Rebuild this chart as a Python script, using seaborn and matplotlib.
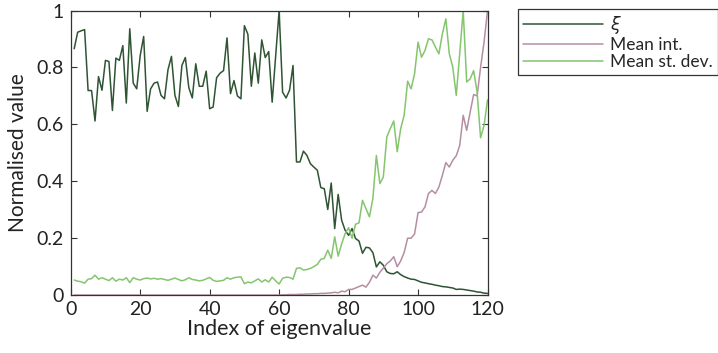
import numpy as np
import pandas as pd
import matplotlib
matplotlib.use("Agg")
import matplotlib.pyplot as plt
import seaborn as sns

index = list(range(1, 121))

xi = [0.866, 0.924, 0.929, 0.933, 0.719, 0.719, 0.612, 0.768, 0.720, 0.825,
      0.821, 0.649, 0.833, 0.825, 0.877, 0.675, 0.936, 0.745, 0.725, 0.842,
      0.909, 0.646, 0.725, 0.745, 0.749, 0.702, 0.690, 0.792, 0.839, 0.702,
      0.663, 0.807, 0.835, 0.729, 0.693, 0.813, 0.734, 0.734, 0.787, 0.655,
      0.661, 0.764, 0.780, 0.789, 0.904, 0.708, 0.754, 0.700, 0.690, 0.947,
      0.917, 0.734, 0.851, 0.745, 0.897, 0.835, 0.856, 0.678, 0.840, 1.000,
      0.713, 0.693, 0.720, 0.807, 0.468, 0.468, 0.506, 0.491, 0.462, 0.450,
      0.439, 0.378, 0.374, 0.301, 0.394, 0.234, 0.354, 0.263, 0.228, 0.210,
      0.234, 0.199, 0.190, 0.147, 0.168, 0.166, 0.149, 0.099, 0.117, 0.105,
      0.082, 0.076, 0.075, 0.082, 0.072, 0.065, 0.060, 0.056, 0.055, 0.050,
      0.045, 0.043, 0.040, 0.038, 0.035, 0.033, 0.030, 0.029, 0.027, 0.025,
      0.020, 0.021, 0.020, 0.018, 0.016, 0.014, 0.011, 0.010, 0.007, 0.006]

mean_int = [0.0] * 60 + [
    0.001, 0.001, 0.002, 0.002, 0.002, 0.003, 0.003, 0.004, 0.004, 0.005,
    0.005, 0.006, 0.006, 0.007, 0.008, 0.010, 0.008, 0.014, 0.012, 0.020,
    0.020, 0.025, 0.030, 0.035, 0.028, 0.045, 0.070, 0.060, 0.080, 0.095,
    0.110, 0.120, 0.135, 0.100, 0.120, 0.150, 0.200, 0.200, 0.215, 0.290,
    0.292, 0.310, 0.357, 0.368, 0.357, 0.380, 0.421, 0.466, 0.450, 0.474,
    0.490, 0.526, 0.632, 0.579, 0.643, 0.705, 0.700, 0.800, 0.889, 1.000]

mean_std = [0.053, 0.049, 0.047, 0.042, 0.056, 0.058, 0.070, 0.056, 0.061, 0.056,
            0.051, 0.061, 0.049, 0.056, 0.053, 0.061, 0.044, 0.061, 0.056, 0.053,
            0.058, 0.060, 0.057, 0.059, 0.056, 0.058, 0.055, 0.052, 0.056, 0.060,
            0.055, 0.050, 0.054, 0.061, 0.055, 0.053, 0.050, 0.052, 0.057, 0.062,
            0.052, 0.048, 0.050, 0.052, 0.061, 0.056, 0.061, 0.063, 0.064, 0.040,
            0.046, 0.043, 0.050, 0.057, 0.046, 0.054, 0.046, 0.063, 0.050, 0.039,
            0.059, 0.063, 0.062, 0.056, 0.094, 0.096, 0.088, 0.090, 0.094, 0.100,
            0.108, 0.126, 0.129, 0.158, 0.129, 0.205, 0.137, 0.180, 0.216, 0.237,
            0.200, 0.249, 0.254, 0.333, 0.304, 0.275, 0.340, 0.491, 0.392, 0.415,
            0.556, 0.585, 0.612, 0.504, 0.585, 0.632, 0.752, 0.725, 0.778, 0.889,
            0.836, 0.860, 0.901, 0.897, 0.872, 0.848, 0.918, 0.971, 0.848, 0.801,
            0.702, 0.850, 1.000, 0.749, 0.760, 0.789, 0.714, 0.553, 0.596, 0.686]

series_names = [r"$\xi$", "Mean int.", "Mean st. dev."]
colors = ["#2f5433", "#b68ea3", "#84c56e"]

df = pd.DataFrame({
    "Index": index * 3,
    "value": xi + mean_int + mean_std,
    "series": [series_names[0]] * 120 + [series_names[1]] * 120 + [series_names[2]] * 120,
})

sns.set_style("ticks")
plt.rcParams["font.family"] = ["Lato", "DejaVu Sans"]
plt.rcParams["mathtext.fontset"] = "dejavusans"

fig = plt.figure(figsize=(7.18, 3.53), dpi=100)
ax = fig.add_axes([0.0985, 0.164, 0.5805, 0.806])

sns.lineplot(data=df, x="Index", y="value", hue="series", hue_order=series_names,
             palette=colors, linewidth=1.1, ax=ax, legend=True)

ax.set_xlim(0, 120)
ax.set_ylim(0, 1)
ax.set_xticks([0, 20, 40, 60, 80, 100, 120])
ax.set_yticks([0, 0.2, 0.4, 0.6, 0.8, 1.0])
ax.set_yticklabels(["0", "0.2", "0.4", "0.6", "0.8", "1"])
ax.tick_params(direction="in", top=True, right=True, length=4, width=0.8,
               labelsize=14, colors="#333333", labelcolor="#222222")
ax.tick_params(axis="x", pad=4)
ax.tick_params(axis="y", pad=5)
for s in ax.spines.values():
    s.set_color("#333333")
    s.set_linewidth(0.9)
ax.set_xlabel("Index of eigenvalue", fontsize=15.5, color="#222222", labelpad=1)
ax.set_ylabel("Normalised value", fontsize=15, color="#222222", labelpad=6)

handles, labels = ax.get_legend_handles_labels()
ax.legend(handles, labels, loc="upper left", bbox_to_anchor=(518 / 718, 1 - 9 / 353),
          bbox_transform=fig.transFigure, frameon=True, fancybox=False,
          edgecolor="#333333", framealpha=1, fontsize=12.5, handlelength=4.6,
          handletextpad=0.4, labelspacing=0.05, borderpad=0.3, borderaxespad=0)
ax.get_legend().get_frame().set_linewidth(0.9)

fig.savefig("out.png", dpi=100)
